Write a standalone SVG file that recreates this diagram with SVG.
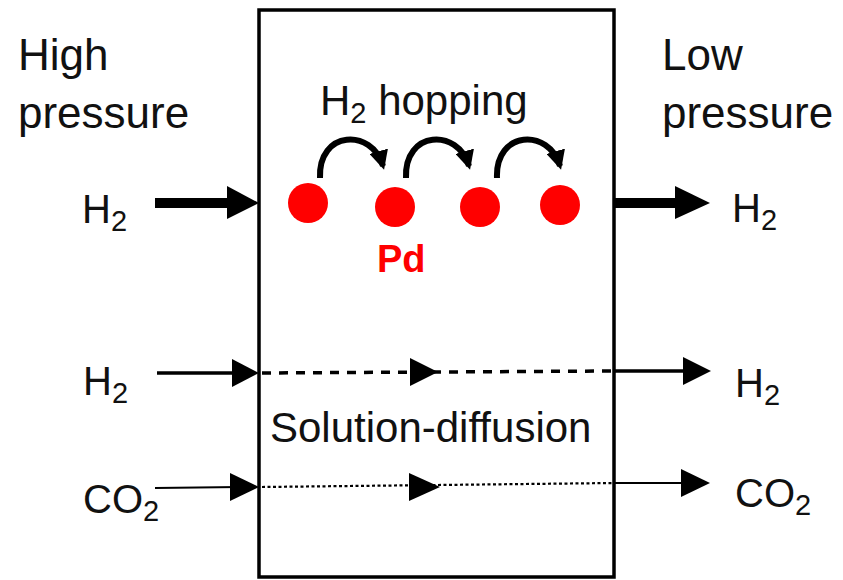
<svg xmlns="http://www.w3.org/2000/svg" width="843" height="580" viewBox="0 0 843 580">
<defs>
<style>
.t{font-family:"Liberation Sans",Arial,sans-serif;fill:#111;font-size:40px}
.big{font-size:44px}
.sub{font-size:29px}
.ln{stroke:#000;fill:none}
</style>
<marker id="hop" viewBox="0 0 10 10" refX="8" refY="5" markerWidth="3.2" markerHeight="3.2" orient="auto" markerUnits="strokeWidth">
<path d="M0,0 L10,5 L0,10 z" fill="#000"/>
</marker>
</defs>
<rect width="843" height="580" fill="#fff"/>
<g id="membrane">
<rect x="259" y="10" width="355" height="567" fill="none" stroke="#000" stroke-width="3.5"/>
</g>
<g id="labels">
<text class="t big" x="18" y="70">High</text>
<text class="t big" x="18" y="128">pressure</text>
<text class="t big" x="662" y="70">Low</text>
<text class="t big" x="662" y="128">pressure</text>
</g>
<g id="hopping">
<text class="t" x="320" y="115" style="font-size:42px">H<tspan class="sub" dy="8">2</tspan><tspan dy="-8"> hopping</tspan></text>
<circle cx="308" cy="203" r="20" fill="#f00"/>
<circle cx="395" cy="207" r="20" fill="#f00"/>
<circle cx="480" cy="207" r="20" fill="#f00"/>
<circle cx="560" cy="205" r="20" fill="#f00"/>
<text x="377" y="272" style="font-family:'Liberation Sans',Arial,sans-serif;font-weight:bold;font-size:38px;fill:#f00">Pd</text>
</g>
<g id="solution">
<text class="t" x="270" y="442" style="font-size:42px">Solution-diffusion</text>
</g>
<g id="gas-left">
<text class="t" x="82" y="223">H<tspan class="sub" dy="8">2</tspan></text>
<text class="t" x="83" y="395">H<tspan class="sub" dy="8">2</tspan></text>
<text class="t" x="83" y="513">CO<tspan class="sub" dy="8">2</tspan></text>
</g>
<g id="gas-right">
<text class="t" x="732" y="222">H<tspan class="sub" dy="8">2</tspan></text>
<text class="t" x="735" y="397">H<tspan class="sub" dy="8">2</tspan></text>
<text class="t" x="735" y="507">CO<tspan class="sub" dy="8">2</tspan></text>
</g>
<g id="connectors">
<line class="ln" x1="155" y1="203" x2="232" y2="203" stroke-width="10"/>
<polygon points="227,186 259,203 227,219" fill="#000"/>
<line class="ln" x1="614" y1="203" x2="680" y2="203" stroke-width="10"/>
<polygon points="675,186 710,203 675,219" fill="#000"/>
<path class="ln" d="M320,178 C318,130 372,128 383,166" stroke-width="6" marker-end="url(#hop)"/>
<path class="ln" d="M406,178 C404,130 458,128 469,166" stroke-width="6" marker-end="url(#hop)"/>
<path class="ln" d="M497,178 C495,130 549,128 560,166" stroke-width="6" marker-end="url(#hop)"/>
<line class="ln" x1="157" y1="373" x2="240" y2="373" stroke-width="3.5"/>
<polygon points="232,359 259,373 232,387" fill="#000"/>
<line class="ln" x1="262" y1="373" x2="614" y2="371" stroke-width="3.5" stroke-dasharray="9,8"/>
<polygon points="410,358 438,372 410,386" fill="#000"/>
<line class="ln" x1="614" y1="371" x2="690" y2="371" stroke-width="3.5"/>
<polygon points="683,357 711,371 683,385" fill="#000"/>
<line class="ln" x1="155" y1="488" x2="240" y2="487" stroke-width="1.8"/>
<polygon points="230,473 259,487 230,501" fill="#000"/>
<line class="ln" x1="262" y1="487" x2="614" y2="483" stroke-width="2.2" stroke-dasharray="3,2.5"/>
<polygon points="409,473 440,487 409,501" fill="#000"/>
<line class="ln" x1="614" y1="483" x2="690" y2="483" stroke-width="1.8"/>
<polygon points="681,469 710,483 681,497" fill="#000"/>
</g>
</svg>
